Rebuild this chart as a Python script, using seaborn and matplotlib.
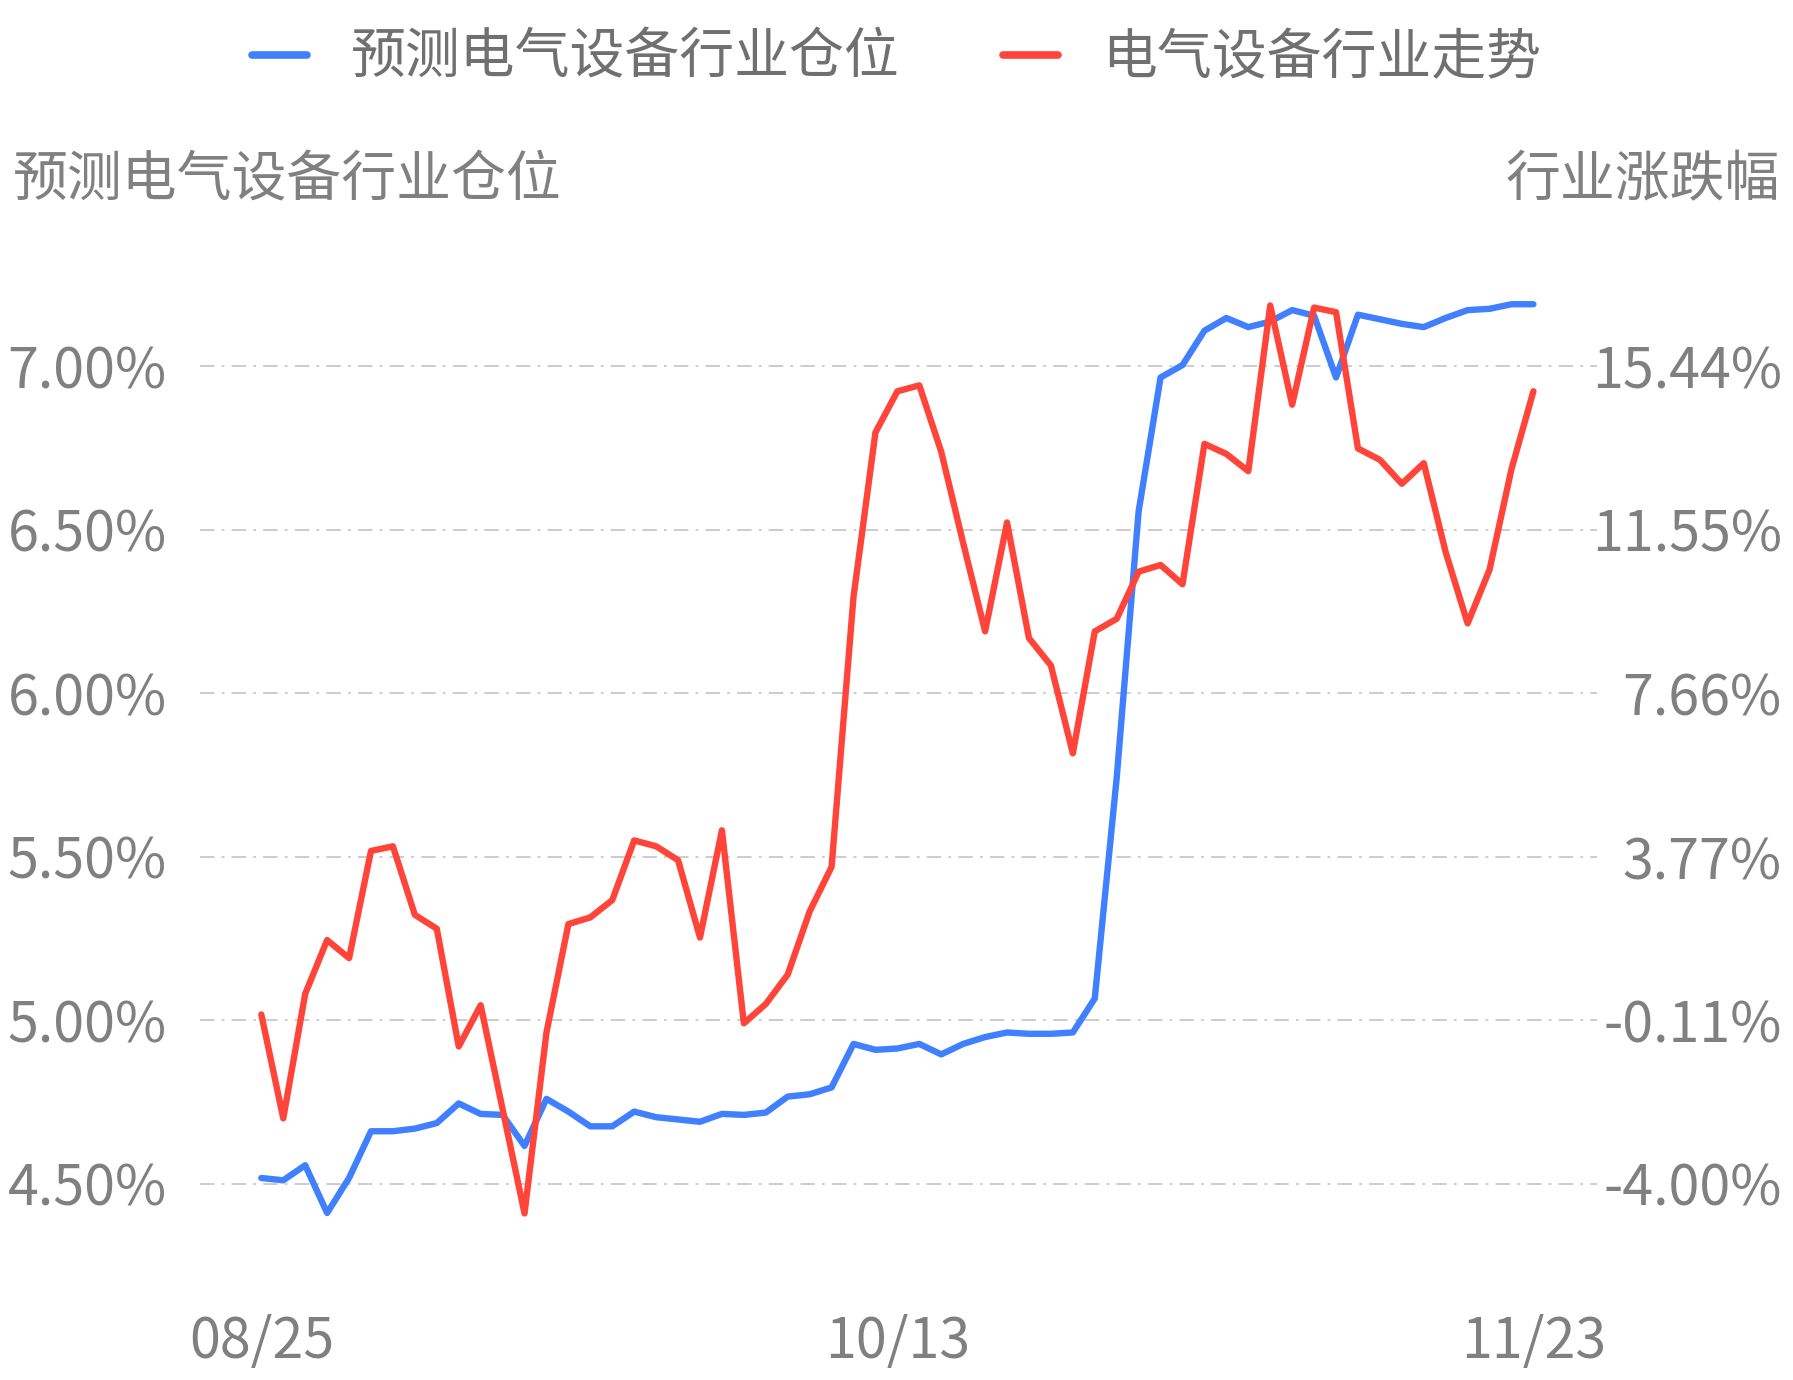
import matplotlib
matplotlib.use('Agg')
import matplotlib.pyplot as plt
import seaborn as sns
import pandas as pd

# predicted sector position (left axis, %) and sector move (right axis, %)
position = [4.517, 4.51, 4.556, 4.41, 4.517, 4.66, 4.66, 4.668, 4.685, 4.745,
            4.713, 4.71, 4.615, 4.759, 4.72, 4.675, 4.675, 4.72, 4.703, 4.696,
            4.689, 4.713, 4.71, 4.717, 4.766, 4.773, 4.794, 4.927, 4.909, 4.913,
            4.927, 4.895, 4.927, 4.948, 4.962, 4.958, 4.958, 4.962, 5.066, 5.741,
            6.556, 6.965, 7.003, 7.108, 7.147, 7.119, 7.136, 7.171, 7.154, 6.965,
            7.157, 7.143, 7.129, 7.119, 7.147, 7.171, 7.175, 7.189, 7.189]
trend = [0.02, -2.45, 0.51, 1.79, 1.36, 3.91, 4.02, 2.39, 2.06, -0.74,
         0.24, -2.23, -4.71, -0.41, 2.17, 2.33, 2.74, 4.16, 4.02, 3.69,
         1.85, 4.40, -0.19, 0.27, 0.97, 2.47, 3.53, 9.95, 13.86, 14.84,
         14.98, 13.40, 11.23, 9.13, 11.72, 8.97, 8.32, 6.23, 9.13, 9.43,
         10.55, 10.71, 10.25, 13.59, 13.35, 12.94, 16.88, 14.52, 16.83, 16.72,
         13.48, 13.21, 12.64, 13.13, 11.01, 9.32, 10.60, 12.99, 14.84]
xtick_pos = [0, 29, 58]
xtick_labels = ['08/25', '10/13', '11/23']
left_ticks = [4.5, 5.0, 5.5, 6.0, 6.5, 7.0]
right_ticks = [-4.00, -0.11, 3.77, 7.66, 11.55, 15.44]

name_pos = '预测电气设备行业仓位'
name_trend = '电气设备行业走势'

sns.set_style('white')
plt.rcParams['font.family'] = ['Noto Sans CJK SC', 'DejaVu Sans']

BLUE = '#4080FF'
RED = '#FF453A'
GREY = '#808080'
FS = 40

df = pd.DataFrame({'x': range(len(position)), 'pos': position, 'trend': trend})

fig = plt.figure(figsize=(17.93, 13.8), dpi=100)
ax = fig.add_axes([0.1115, 0.1068, 0.7792, 0.6872])
ax2 = ax.twinx()

sns.lineplot(data=df, x='x', y='pos', ax=ax, color=BLUE, lw=4.6, label=name_pos, legend=False)
sns.lineplot(data=df, x='x', y='trend', ax=ax2, color=RED, lw=4.6, label=name_trend, legend=False)

ylo, yhi = 4.35, 7.25
ax.set_ylim(ylo, yhi)
conv = lambda v: -4.00 + (v - 4.5) * (19.44 / 2.5)
ax2.set_ylim(conv(ylo), conv(yhi))
ax.set_xlim(-2.8, 60.9)

for v in left_ticks:
    ax.axhline(v, color='#C8C8C8', lw=1.3, ls=(0, (8, 4, 1.5, 4)), zorder=0)

ax.set_yticks(left_ticks)
ax.set_yticklabels([f'{v:.2f}%' for v in left_ticks])
ax2.set_yticks(right_ticks)
ax2.set_yticklabels([f'{v:.2f}%' for v in right_ticks])
ax.set_xticks(xtick_pos)
ax.set_xticklabels(xtick_labels)

ax.tick_params(axis='y', length=0, pad=24, labelsize=FS, labelcolor=GREY)
ax.tick_params(axis='x', length=0, pad=58, labelsize=FS, labelcolor=GREY)
ax2.tick_params(axis='y', length=0, pad=133, labelsize=FS, labelcolor=GREY)
for t in ax2.get_yticklabels():
    t.set_ha('right')

ax.set_xlabel('')
ax.set_ylabel('')
ax2.set_ylabel('')
for a in (ax, ax2):
    for s in a.spines.values():
        s.set_visible(False)

fig.text(0.007, 0.869, name_pos, fontsize=39.5, color=GREY, ha='left', va='center')
fig.text(0.993, 0.869, '行业涨跌幅', fontsize=39.5, color=GREY, ha='right', va='center')

h1, l1 = ax.get_legend_handles_labels()
h2, l2 = ax2.get_legend_handles_labels()
leg = fig.legend(h1 + h2, l1 + l2, loc='center', bbox_to_anchor=(0.5, 0.958), ncol=2,
                 frameon=False, fontsize=39.5, handlelength=1.0, handletextpad=0.8,
                 columnspacing=1.9)
for t in leg.get_texts():
    t.set_color('#707070')
for h in leg.legend_handles:
    h.set_linewidth(5.5)
    h.set_solid_capstyle('round')

fig.savefig('out.png', dpi=100)
